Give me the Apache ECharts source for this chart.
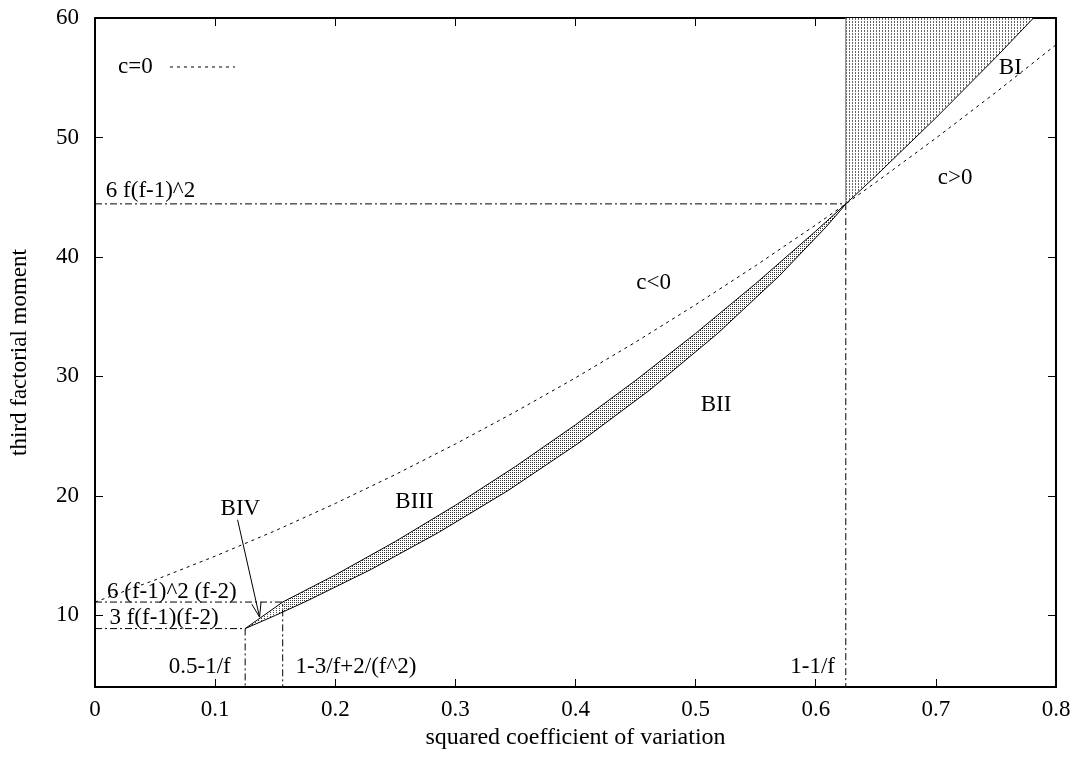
<!DOCTYPE html>
<html><head><meta charset="utf-8">
<script src="https://cdn.jsdelivr.net/npm/echarts@6/dist/echarts.min.js"></script>
<style>html,body{margin:0;padding:0;background:#fff}#main{width:1078px;height:765px}</style>
</head><body><div id="main"></div>
<script>
// ---- data ----
const xTicks = [0, 0.1, 0.2, 0.3, 0.4, 0.5, 0.6, 0.7, 0.8];
const yTicks = [10, 20, 30, 40, 50, 60];

// c=0 dashed curve
const c0X = [0, 0.05, 0.1, 0.15, 0.2, 0.25, 0.3, 0.35, 0.4, 0.45, 0.5, 0.55, 0.6, 0.625, 0.65, 0.7, 0.75, 0.8];
const c0Y = [11.11, 12.96, 14.95, 17.08, 19.36, 21.78, 24.34, 27.04, 29.88, 32.87, 36.0, 39.27, 42.68, 44.44, 46.24, 49.94, 53.78, 57.76];

// upper solid curve (BIII boundary continuing as BI)
const upperX = [0.15625, 0.2, 0.25, 0.3, 0.35, 0.4, 0.45, 0.5, 0.55, 0.6, 0.625, 0.65, 0.7, 0.75, 0.78125];
const upperY = [11.11, 13.38, 16.18, 19.21, 22.46, 25.95, 29.66, 33.6, 37.77, 42.16, 44.44, 46.78, 51.64, 56.71, 60];

// lower solid curve (BII boundary)
const lowerX = [0.125, 0.1503, 0.1762, 0.2300, 0.2859, 0.3438, 0.4028, 0.4617, 0.5185, 0.5694, 0.6085, 0.6205, 0.625];
const lowerY = [8.89, 10.00, 11.19, 13.85, 16.93, 20.44, 24.43, 28.85, 33.61, 38.39, 42.50, 43.89, 44.44];

// BIV upper edge
const bivX = [0.125, 0.15625];
const bivY = [8.89, 11.11];

// marked levels
const markX = [0.125, 0.15625, 0.625];
const markY = [8.89, 11.11, 44.44];

// ---- chart ----
const chart = echarts.init(document.getElementById('main'), null, { renderer: 'canvas' });
const FONT = "'Liberation Serif','Times New Roman',serif";
const FS = 23;
const Y_MIN = 4, Y_MAX = 60, X_MIN = 0, X_MAX = 0.8;
const pts = (xs, ys) => xs.map((x, i) => [x, ys[i]]);

function makePattern(w, h, cells, color) {
  const c = document.createElement('canvas');
  c.width = w; c.height = h;
  const g = c.getContext('2d');
  g.fillStyle = '#ffffff'; g.fillRect(0, 0, w, h);
  g.fillStyle = color;
  cells.forEach(([x, y]) => g.fillRect(x, y, 1, 1));
  return { image: c, repeat: 'repeat' };
}
const bandPattern = makePattern(2, 2, [[0, 0]], '#333');
const bivPattern = makePattern(3, 2, [[0, 0]], '#444');
const topPattern = makePattern(3, 3, [[0, 0], [0, 1]], '#666');

const upperPts = pts(upperX, upperY);
const lowerPts = pts(lowerX, lowerY);
const bivPts = pts(bivX, bivY);
const xGeo = markX[2], yGeo = markY[2];

const lowerBiv = lowerPts.filter(p => p[0] <= bivX[1]).concat([[bivX[1], 10.30]]);
const bivPoly = bivPts.concat(lowerBiv.slice().reverse());
const bandPoly = [[bivX[1], bivY[1]]].concat(upperPts.filter(p => p[0] > bivX[1] && p[0] <= xGeo))
  .concat(lowerPts.filter(p => p[0] > bivX[1]).reverse()).concat([[bivX[1], 10.30]]);
const topPoly = upperPts.filter(p => p[0] >= xGeo).concat([[xGeo, Y_MAX]]);

const refLine = (x, y) => [[X_MIN, y], [x, y], [x, Y_MIN]];
const dashDot = { color: '#000', width: 1, type: [7, 3, 2, 3] };
const solid = { color: '#000', width: 1 };

const axisCommon = {
  type: 'value',
  axisLine: { show: true, onZero: false, lineStyle: { color: '#000', width: 2 } },
  axisTick: { show: true, inside: true, length: 8, lineStyle: { color: '#000', width: 1 } },
  splitLine: { show: false }
};

const polySeries = (poly, fill) => ({
  type: 'custom', coordinateSystem: 'cartesian2d', silent: true, z: 1,
  data: [poly[0]],
  renderItem: (params, api) => ({
    type: 'polygon',
    shape: { points: poly.map(p => api.coord(p)) },
    style: { fill: fill, stroke: null }
  })
});

const lineSeries = (data, style, extra) => Object.assign({
  type: 'line', data: data, showSymbol: false, symbol: 'none', silent: true,
  lineStyle: style, z: 3, animation: false
}, extra || {});

const labelFont = { fontFamily: FONT, fontSize: FS, color: '#000' };

const annotations = [
  { text: '6 f(f-1)^2', at: [0.009, 44.44], align: 'left', v: 'bottom', dy: -1 },
  { text: '6 (f-1)^2 (f-2)', at: [0.010, 11.11], align: 'left', v: 'bottom', dy: 1 },
  { text: '3 f(f-1)(f-2)', at: [0.012, 8.89], align: 'left', v: 'bottom', dy: 1 },
  { text: '0.5-1/f', at: [0.113, 5.7], align: 'right', v: 'middle', dy: 0 },
  { text: '1-3/f+2/(f^2)', at: [0.167, 5.7], align: 'left', v: 'middle', dy: 0 },
  { text: '1-1/f', at: [0.616, 5.7], align: 'right', v: 'middle', dy: 0 },
  { text: 'BIV', at: [0.121, 18.9], align: 'center', v: 'middle', dy: 0 },
  { text: 'BIII', at: [0.266, 19.5], align: 'center', v: 'middle', dy: 0 },
  { text: 'BII', at: [0.517, 27.6], align: 'center', v: 'middle', dy: 0 },
  { text: 'BI', at: [0.762, 55.8], align: 'center', v: 'middle', dy: 0 },
  { text: 'c>0', at: [0.716, 46.6], align: 'center', v: 'middle', dy: 0 },
  { text: 'c<0', at: [0.465, 37.8], align: 'center', v: 'middle', dy: 0 }
];

const arrowFrom = [0.1187, 18.0], arrowTo = [0.137, 9.85];

const option = {
  animation: false,
  backgroundColor: '#fff',
  grid: { left: 92, right: 22, top: 18, bottom: 78, containLabel: false },
  graphic: [
    { type: 'text', left: 118, top: 55, style: { text: 'c=0', font: FS + "px 'Liberation Serif'", fill: '#000' } },
    { type: 'line', shape: { x1: 170, y1: 67, x2: 235, y2: 67 }, style: { stroke: '#000', lineWidth: 1, lineDash: [3, 4] } }
  ],
  xAxis: [
    Object.assign({}, axisCommon, {
      position: 'bottom', min: X_MIN, max: X_MAX, interval: 0.1,
      name: 'squared coefficient of variation', nameLocation: 'middle', nameGap: 38,
      nameTextStyle: { ...labelFont, fontSize: 24 },
      axisLabel: { show: true, margin: 11, ...labelFont, formatter: v => v === 0 ? '0' : v.toFixed(1) }
    }),
    Object.assign({}, axisCommon, {
      position: 'top', min: X_MIN, max: X_MAX, interval: 0.1, axisLabel: { show: false }
    })
  ],
  yAxis: [
    Object.assign({}, axisCommon, {
      position: 'left', min: Y_MIN, max: Y_MAX,
      name: 'third factorial moment', nameLocation: 'middle', nameGap: 64, nameRotate: 90,
      nameTextStyle: { ...labelFont },
      axisTick: Object.assign({}, axisCommon.axisTick, { customValues: yTicks }),
      axisLabel: { show: true, margin: 16, ...labelFont, customValues: yTicks }
    }),
    Object.assign({}, axisCommon, {
      position: 'right', min: Y_MIN, max: Y_MAX,
      axisTick: Object.assign({}, axisCommon.axisTick, { customValues: yTicks }),
      axisLabel: { show: false, customValues: yTicks }
    })
  ],
  series: [
    polySeries(bandPoly, bandPattern),
    polySeries(bivPoly, bivPattern),
    polySeries(topPoly, topPattern),
    lineSeries([[xGeo, yGeo], [xGeo, Y_MAX]], { color: '#777', width: 1 }),
    lineSeries(refLine(markX[2], markY[2]), dashDot),
    lineSeries(refLine(markX[1], markY[1]), dashDot),
    lineSeries(refLine(markX[0], markY[0]), dashDot),
    lineSeries(pts(c0X, c0Y), { color: '#000', width: 1, type: [3, 4] }, { name: 'c=0', z: 4 }),
    lineSeries(upperPts, solid, { z: 5 }),
    lineSeries(lowerPts, solid, { z: 5 }),
    lineSeries(bivPts, solid, { z: 5 }),
    {
      type: 'custom', coordinateSystem: 'cartesian2d', silent: true, z: 6,
      data: [arrowTo],
      renderItem: (params, api) => {
        const a = api.coord(arrowFrom), b = api.coord(arrowTo);
        const ang = Math.atan2(b[1] - a[1], b[0] - a[0]);
        const L = 15, t = 0.32;
        const h1 = [b[0] - L * Math.cos(ang - t), b[1] - L * Math.sin(ang - t)];
        const h2 = [b[0] - L * Math.cos(ang + t), b[1] - L * Math.sin(ang + t)];
        const st = { stroke: '#000', lineWidth: 1, fill: null };
        return { type: 'group', children: [
          { type: 'polyline', shape: { points: [a, b] }, style: st },
          { type: 'polyline', shape: { points: [h1, b, h2] }, style: st }
        ] };
      }
    },
    {
      type: 'custom', coordinateSystem: 'cartesian2d', silent: true, z: 7,
      data: annotations.map(a => a.at),
      renderItem: (params, api) => {
        const a = annotations[params.dataIndex];
        const p = api.coord(a.at);
        return {
          type: 'text', x: p[0], y: p[1] + a.dy,
          style: { text: a.text, fill: '#000', font: FS + "px 'Liberation Serif'", align: a.align, verticalAlign: a.v }
        };
      }
    }
  ]
};
chart.setOption(option);
</script>
</body></html>
